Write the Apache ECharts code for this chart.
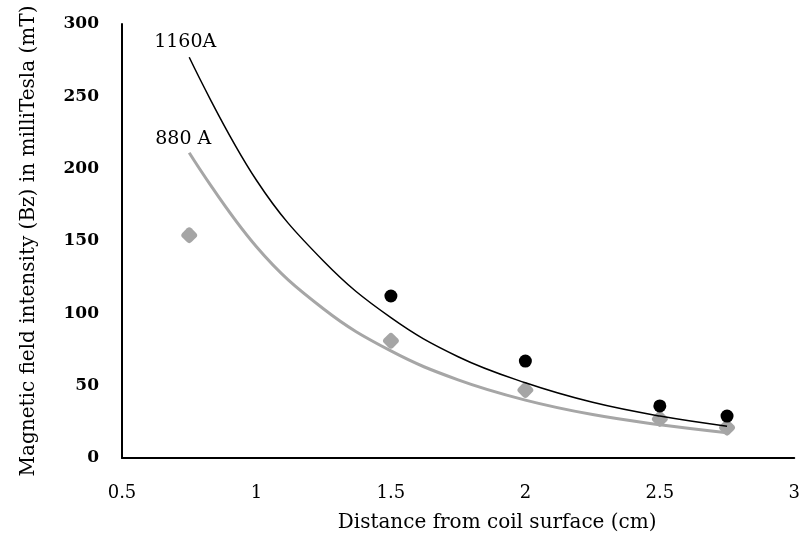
<!DOCTYPE html>
<html>
<head>
<meta charset="UTF-8">
<title>Magnetic field vs distance</title>
<script src="https://cdn.jsdelivr.net/npm/echarts@6/dist/echarts.min.js"></script>
<style>
  html, body { margin: 0; padding: 0; background: #fff; }
  #chart { width: 803px; height: 543px; }
</style>
</head>
<body>
<div id="chart"></div>
<script>
// measured points
var x1160 = [1.5, 2, 2.5, 2.75];
var y1160 = [112, 67, 36, 29];
var x880 = [0.75, 1.5, 2, 2.5, 2.75];
var y880 = [154, 81, 47, 27, 21];

// trend lines
var trendX = [0.75, 1, 1.25, 1.5, 1.75, 2, 2.25, 2.5, 2.75];
var trend1160 = [277, 192, 136, 97, 70, 52, 38.5, 29, 22];
var trend880 = [211, 146, 103, 74, 54, 40, 30, 23, 17.5];

var xTicks = [0.5, 1, 1.5, 2, 2.5, 3];
var yTicks = [0, 50, 100, 150, 200, 250, 300];

function pairs(xs, ys) {
  return xs.map(function (x, i) { return [x, ys[i]]; });
}

var font = '"DejaVu Serif", "Liberation Serif", serif';
var chart = echarts.init(document.getElementById('chart'));

var option = {
  animation: false,
  grid: { left: 122, right: 6, top: 24, bottom: 85 },
  xAxis: {
    type: 'value',
    min: xTicks[0],
    max: xTicks[xTicks.length - 1],
    interval: 0.5,
    name: 'Distance from coil surface (cm)',
    nameLocation: 'middle',
    nameGap: 55,
    nameTextStyle: { fontFamily: font, fontSize: 20, color: '#000', padding: [0, 0, 0, 78] },
    axisLine: { lineStyle: { color: '#000', width: 2 } },
    axisTick: { show: false },
    splitLine: { show: false },
    axisLabel: { fontFamily: font, fontSize: 18, color: '#000', margin: 26 }
  },
  yAxis: {
    type: 'value',
    min: yTicks[0],
    max: yTicks[yTicks.length - 1],
    interval: 50,
    name: 'Magnetic field intensity (Bz) in milliTesla (mT)',
    nameLocation: 'middle',
    nameGap: 83,
    nameTextStyle: { fontFamily: font, fontSize: 20, color: '#000' },
    axisLine: { show: true, lineStyle: { color: '#000', width: 2 } },
    axisTick: { show: false },
    splitLine: { show: false },
    axisLabel: { fontFamily: font, fontSize: 17, fontWeight: 'bold', color: '#000', margin: 23 }
  },
  series: [
    {
      name: '880 A data',
      type: 'scatter',
      symbol: 'roundRect',
      symbolRotate: 45,
      symbolSize: 13,
      itemStyle: { color: '#a5a5a5', opacity: 1 },
      data: pairs(x880, y880),
      z: 2
    },
    {
      name: '1160A data',
      type: 'scatter',
      symbol: 'circle',
      symbolSize: 13,
      itemStyle: { color: '#000', opacity: 1 },
      data: pairs(x1160, y1160),
      z: 2
    },
    {
      name: '880 A trend',
      type: 'line',
      smooth: 0.4,
      showSymbol: false,
      lineStyle: { color: '#a6a6a6', width: 3 },
      data: pairs(trendX, trend880),
      z: 3
    },
    {
      name: '1160A trend',
      type: 'line',
      smooth: 0.4,
      showSymbol: false,
      lineStyle: { color: '#000', width: 1.5 },
      data: pairs(trendX, trend1160),
      z: 3
    },
    {
      name: 'labels',
      type: 'scatter',
      symbolSize: 0,
      silent: true,
      itemStyle: { opacity: 1 },
      label: {
        show: true,
        position: 'top',
        distance: 6,
        fontFamily: font,
        fontSize: 19,
        color: '#000',
        formatter: function (p) { return p.name; }
      },
      data: [
        { name: '1160A', value: [trendX[0], trend1160[0]], label: { offset: [-4, 0] } },
        { name: '880 A', value: [trendX[0], trend880[0]], label: { offset: [-6, 2] } }
      ]
    }
  ]
};

chart.setOption(option);
</script>
</body>
</html>
